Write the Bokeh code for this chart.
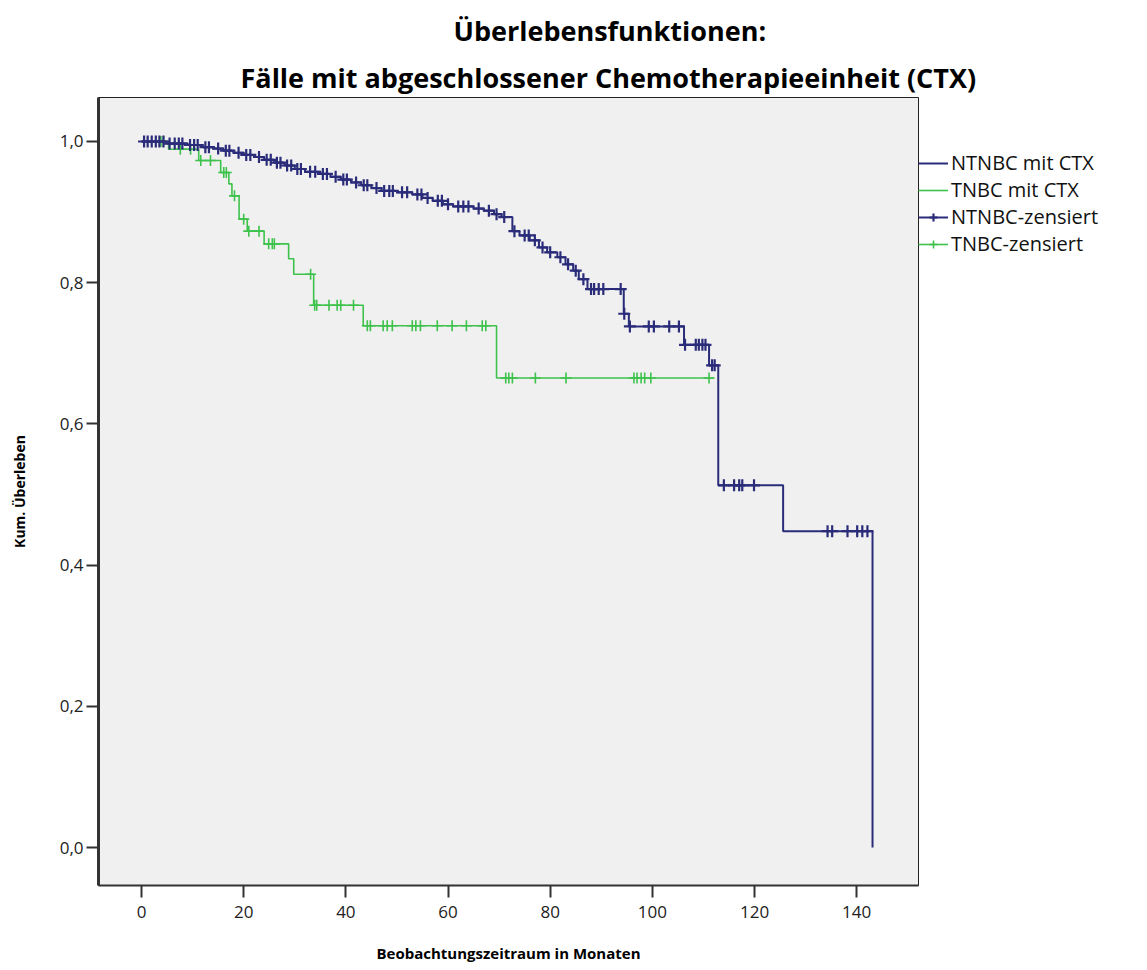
from bokeh.plotting import figure
from bokeh.models import (Range1d, FixedTicker, CustomJSTickFormatter, Title,
                          Legend, LegendItem)
from bokeh.embed import file_html
from bokeh.resources import INLINE
import numpy as np

# ---- data ----
ntnbc_t = [0, 5, 9, 12, 14, 16, 18, 20, 22, 24, 26, 28, 30, 32, 35, 37, 39, 41,
           43, 45, 47, 50, 53, 55, 57, 59, 61, 65, 67, 69, 70.5, 72.6, 74, 76,
           77.8, 79.4, 81.4, 83, 84.5, 85.6, 87.3, 94.4, 95.4, 106.2, 111.1,
           112.9, 125.6, 143.1]
ntnbc_s = [1.0, 0.997, 0.995, 0.992, 0.990, 0.987, 0.984, 0.981, 0.978, 0.974,
           0.970, 0.966, 0.961, 0.957, 0.954, 0.950, 0.946, 0.942, 0.938, 0.934,
           0.930, 0.928, 0.925, 0.920, 0.916, 0.911, 0.908, 0.905, 0.902, 0.897,
           0.893, 0.873, 0.867, 0.860, 0.850, 0.843, 0.836, 0.826, 0.817, 0.805,
           0.791, 0.756, 0.738, 0.712, 0.683, 0.513, 0.448, 0.0]
ntnbc_cens = [0.5, 1.2, 2, 2.8, 3.5, 4.3, 5.5, 6.5, 7.3, 8, 9.5, 10.3, 11, 12.5,
              13.2, 15, 16.5, 17.2, 19, 20.5, 21.3, 23, 24.5, 25.3, 26.5, 27.2,
              28.5, 29.3, 30.5, 31.2, 33, 34, 35.5, 36.3, 38, 39.5, 40.2, 42,
              43.5, 44.2, 46, 47.5, 48.5, 49.2, 51, 52, 54, 54.8, 56, 58, 58.8,
              60, 62, 63, 64, 66, 68, 69.5, 71, 73, 75, 75.8, 77, 78.5, 80, 82,
              83.5, 85, 86.5, 88, 88.6, 89.5, 90.4, 93.8, 94.5, 95.6, 99.3,
              100.3, 103.3, 105.2, 106.4, 108.5, 109.1, 109.8, 110.4, 111.7,
              112.2, 114, 116, 117, 117.6, 119.9, 134.3, 135.2, 138.2, 140.1,
              141.1, 142.1]

tnbc_t = [3, 5.3, 11.2, 15.5, 17.1, 17.7, 19.1, 20.7, 24.0, 28.8, 29.8, 33.7,
          43.4, 69.5, 112.0]
tnbc_s = [1.0, 0.989, 0.973, 0.956, 0.940, 0.923, 0.890, 0.873, 0.855, 0.834,
          0.812, 0.768, 0.739, 0.665, 0.665]
tnbc_cens = [3.8, 4.3, 7.6, 9.6, 11.6, 13.5, 16.1, 16.6, 18.2, 20.0, 21.0, 23.0,
             24.9, 25.6, 26.0, 33.1, 33.9, 34.3, 36.7, 38.3, 39.0, 41.5, 44.2,
             44.8, 47.3, 48.1, 49.1, 53.0, 53.7, 54.6, 57.9, 60.8, 63.6, 66.7,
             67.4, 71.3, 71.9, 72.6, 77.1, 83.1, 96.4, 97.0, 97.8, 98.5, 99.7,
             111.1]

x_ticks = [0, 20, 40, 60, 80, 100, 120, 140]
y_ticks = [0.0, 0.2, 0.4, 0.6, 0.8, 1.0]

labels = ["NTNBC mit CTX", "TNBC mit CTX", "NTNBC-zensiert", "TNBC-zensiert"]
title1 = "Überlebensfunktionen:"
title2 = "Fälle mit abgeschlossener Chemotherapieeinheit (CTX)"
xlabel = "Beobachtungszeitraum in Monaten"
ylabel = "Kum. Überleben"


def level_at(times, levels, pts):
    idx = np.searchsorted(np.array(times), np.array(pts), side="right") - 1
    return [levels[i] for i in idx]


NAVY = "#2a2c7a"
GREEN = "#3ec24c"
FONT = "Open Sans"

p = figure(frame_width=820, frame_height=788, output_backend="svg",
           toolbar_location=None,
           x_range=Range1d(-8.42, 152.1), y_range=Range1d(-0.0538, 1.0623),
           min_border_left=98, min_border_right=229, min_border_top=97,
           min_border_bottom=85, title=None)
p.background_fill_color = "#f0f0f0"
p.border_fill_color = "white"
p.outline_line_color = "#222222"
p.outline_line_width = 1
p.grid.visible = False

t2 = Title(text=title2, align="left", offset=142, text_font=FONT,
           text_font_size="27px", text_font_style="bold", text_color="black",
           standoff=4)
t1 = Title(text=title1, align="left", offset=355, text_font=FONT,
           text_font_size="27px", text_font_style="bold", text_color="black",
           standoff=12)
p.add_layout(t2, "above")
p.add_layout(t1, "above")

for ax in (p.xaxis[0], p.yaxis[0]):
    ax.axis_line_color = "#333333"
    ax.major_tick_line_color = "#333333"
    ax.major_tick_line_width = 2
    ax.major_tick_out = 12
    ax.major_tick_in = 0
    ax.minor_tick_line_color = None
    ax.major_label_text_font = FONT
    ax.major_label_text_font_size = "17px"
    ax.major_label_text_color = "#222222"
    ax.axis_label_text_font = FONT
    ax.axis_label_text_font_style = "bold"
    ax.axis_label_text_color = "black"

p.xaxis.axis_line_width = 2
p.yaxis.axis_line_width = 3
p.xaxis.ticker = FixedTicker(ticks=x_ticks)
p.yaxis.ticker = FixedTicker(ticks=y_ticks)
p.yaxis.formatter = CustomJSTickFormatter(code="return tick.toFixed(1).replace('.', ',');")
p.xaxis.axis_label = xlabel
p.yaxis.axis_label = ylabel
p.xaxis.axis_label_text_font_size = "15px"
p.yaxis.axis_label_text_font_size = "14px"
p.xaxis.axis_label_standoff = 22
p.yaxis.axis_label_standoff = 28
p.xaxis.major_label_standoff = 8
p.yaxis.major_label_standoff = 3

g_step = p.step(tnbc_t, tnbc_s, mode="after", line_color=GREEN, line_width=1.6)
n_step = p.step(ntnbc_t, ntnbc_s, mode="after", line_color=NAVY, line_width=2)
g_cens = p.scatter(tnbc_cens, level_at(tnbc_t, tnbc_s, tnbc_cens), marker="cross",
                   size=11, line_color=GREEN, line_width=1.6)
n_cens = p.scatter(ntnbc_cens, level_at(ntnbc_t, ntnbc_s, ntnbc_cens), marker="cross",
                   size=12, line_color=NAVY, line_width=2.2)

legend = Legend(items=[
    LegendItem(label=labels[0], renderers=[n_step]),
    LegendItem(label=labels[1], renderers=[g_step]),
    LegendItem(label=labels[2], renderers=[n_step, n_cens]),
    LegendItem(label=labels[3], renderers=[g_step, g_cens]),
], location="top_left")
legend.title = " "
legend.title_text_font_size = "20px"
legend.title_standoff = 29
legend.background_fill_alpha = 0
legend.border_line_color = None
legend.label_text_font = FONT
legend.label_text_font_size = "20px"
legend.label_text_color = "#111111"
legend.glyph_width = 30
legend.glyph_height = 20
legend.spacing = 0
legend.padding = 8
legend.margin = 0
legend.label_standoff = 3
p.add_layout(legend, "right")

open("out.html", "w").write(file_html(p, INLINE))
